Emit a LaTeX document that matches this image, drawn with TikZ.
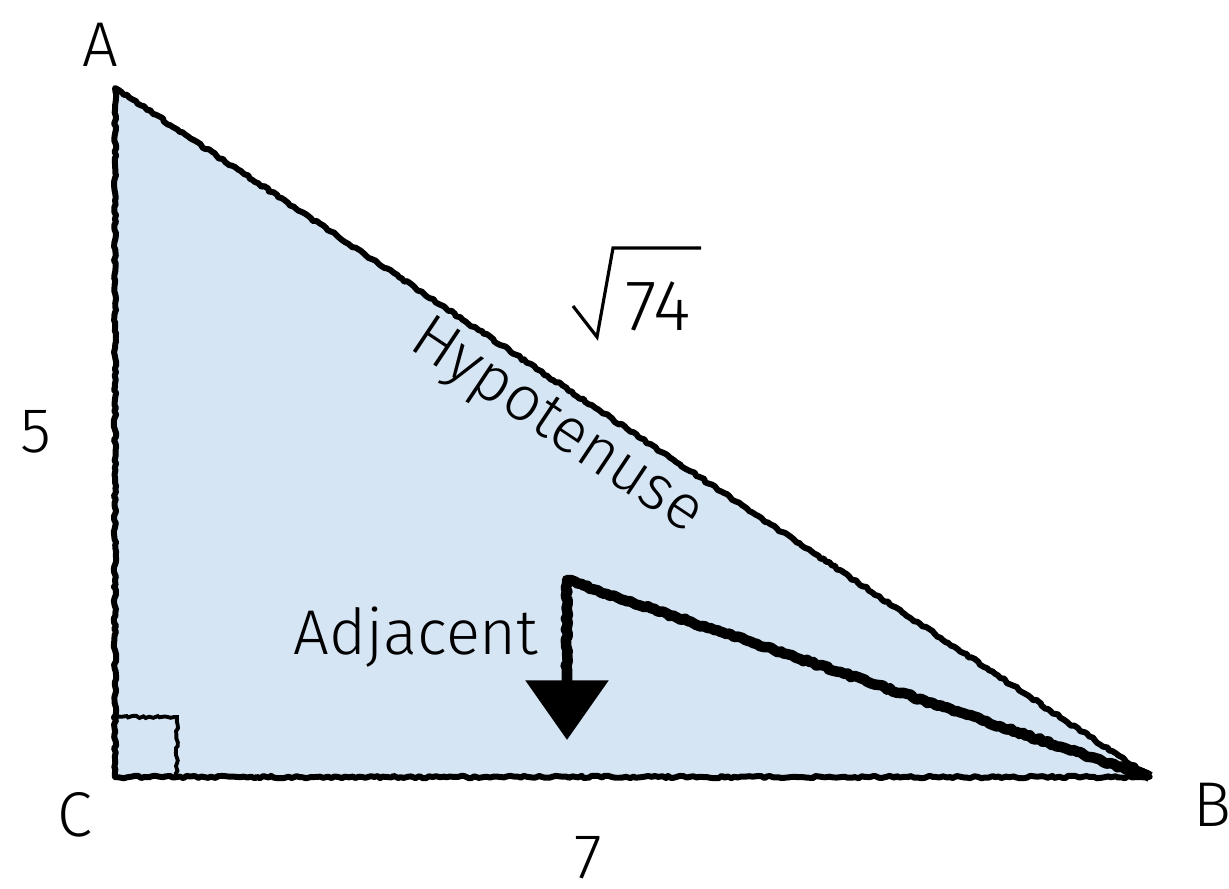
\documentclass[tikz,border=0pt]{standalone}
\usepackage{fontspec}
\setmainfont{Fira Sans Light}
\usetikzlibrary{calc, arrows.meta, decorations.pathmorphing}
\definecolor{triblue}{RGB}{214,229,244}

\begin{document}
\begin{tikzpicture}[x=0.2mm, y=-0.2mm, thick, >=latex,
    sketch/.style={decorate, decoration={random steps, segment length=2pt, amplitude=0.7pt}},
    lbl/.style={font=\fontsize{36}{40}\selectfont, inner sep=0pt}]
        \useasboundingbox (0,0) rectangle (1229,888);

        \coordinate (ptA) at (115,88);
        \coordinate (ptB) at (1150,777);
        \coordinate (ptC) at (115,777);
        \coordinate (bend) at (567,580);
        \coordinate (tip) at (567,740);

        \fill[triblue] (ptA) -- (ptB) -- (ptC) -- cycle;
        \draw[sketch, line width=3.4pt, line join=round] (ptA) -- (ptB) -- (ptC) -- cycle;
        \draw[sketch, line width=2.2pt] ($(ptC)+(0,-60)$) -| ($(ptC)+(62,0)$);

        \draw[decorate, decoration={random steps, segment length=2pt, amplitude=0.8pt, post=lineto, post length=40pt},
              line width=6pt, line join=round, -{Triangle[length=34pt, width=46pt]}] (ptB) -- (bend) -- (tip);

        \node (labA) [lbl] at (100,45) {A};
        \node (labB) [lbl] at (1212,805) {B};
        \node (labC) [lbl] at (75,815) {C};
        \node (side5) [lbl] at (36,432) {5};
        \node (side7) [lbl] at (588,858) {7};
        \node (root) [lbl, font=\fontsize{41}{44}\selectfont] at (658,306) {74};
        \draw[line width=1.8pt, line join=miter] (573,306) -- (597,337) -- (613,248) -- (701,248);
        \node (hyp) [lbl, rotate=-33.7] at (556,428) {Hypotenuse};
        \node (adj) [lbl] at (416,637) {Adjacent};
    \end{tikzpicture}
\end{document}
